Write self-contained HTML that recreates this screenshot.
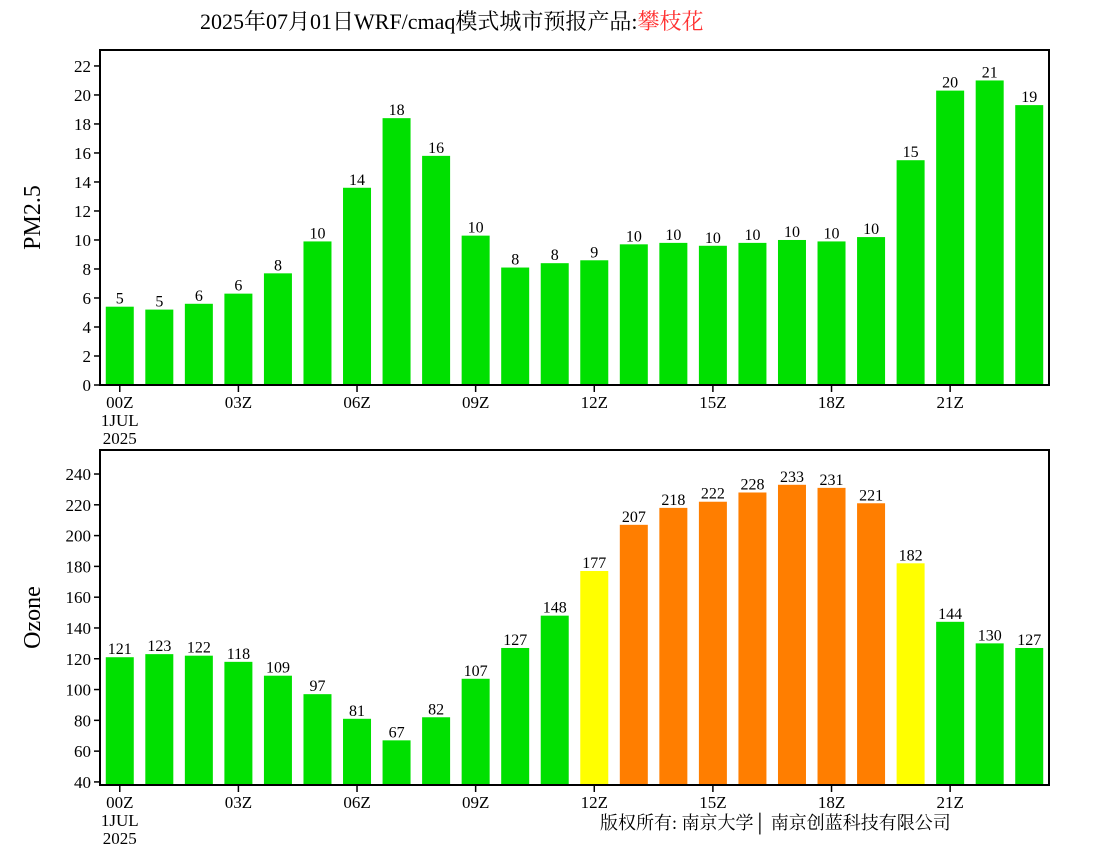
<!DOCTYPE html>
<html><head><meta charset="utf-8"><style>
body{margin:0;background:#fff;}
text{font-family:"Liberation Serif","Noto Serif CJK SC",serif;fill:#000;}
</style></head><body>
<svg id="svg" width="1100" height="850" xmlns="http://www.w3.org/2000/svg">
<rect width="1100" height="850" fill="#fff"/>
<text x="200" y="29" font-size="22">2025年07月01日WRF/cmaq模式城市预报产品:<tspan style="fill:#ff3030">攀枝花</tspan></text>
<text x="600" y="829" font-size="18">版权所有: 南京大学│ 南京创蓝科技有限公司</text>
<g id="g"></g>
</svg>
<script>
const hours = ["00Z","","","03Z","","","06Z","","","09Z","","","12Z","","","15Z","","","18Z","","","21Z","",""];
const pmValues = [5.4,5.2,5.6,6.3,7.7,9.9,13.6,18.4,15.8,10.3,8.1,8.4,8.6,9.7,9.8,9.6,9.8,10.0,9.9,10.2,15.5,20.3,21.0,19.3];
const pmLabels = [5,5,6,6,8,10,14,18,16,10,8,8,9,10,10,10,10,10,10,10,15,20,21,19];
const pmTicks = [0,2,4,6,8,10,12,14,16,18,20,22];
const o3Values = [121,123,122,118,109,97,81,67,82,107,127,148,177,207,218,222,228,233,231,221,182,144,130,127];
const o3Ticks = [40,60,80,100,120,140,160,180,200,220,240];
const NS="http://www.w3.org/2000/svg";
const g=document.getElementById('g');
function mk(t,a,txt){const e=document.createElementNS(NS,t);for(const k in a)e.setAttribute(k,a[k]);if(txt!==undefined)e.textContent=txt;g.appendChild(e);return e;}
const X0=100,X1=1049,n=24,step=(X1-X0)/n;
function xc(i){return X0+(i+0.5)*step;}
function panel(name,top,bot,vmin,vmax,vals,labels,ticks,ytitle,color,tfs){
  const y=v=>bot-(v-vmin)/(vmax-vmin)*(bot-top);
  vals.forEach((v,i)=>{
    const b=mk('rect',{x:xc(i)-14,y:y(v),width:28,height:bot-y(v),fill:color(v)});
    
    
    const l=mk('text',{x:xc(i),y:y(v)-3,'font-size':16,'text-anchor':'middle'},String(labels[i]));
    
    
  });
  const f=mk('rect',{x:X0,y:top,width:X1-X0,height:bot-top,fill:'none',stroke:'#000','stroke-width':2});
  
  
  ticks.forEach(t=>{
    mk('line',{x1:X0-6,x2:X0,y1:y(t),y2:y(t),stroke:'#000','stroke-width':1.5});
    const tl=mk('text',{x:X0-9,y:y(t)+6,'font-size':17,'text-anchor':'end'},String(t));
    
    
  });
  hours.forEach((h,i)=>{
    if(!h)return;
    mk('line',{x1:xc(i),x2:xc(i),y1:bot,y2:bot+7,stroke:'#000','stroke-width':1.5});
    const hl=mk('text',{x:xc(i),y:bot+23,'font-size':17,'text-anchor':'middle'},h);
    
    
  });
  const d1=mk('text',{x:xc(0),y:bot+41,'font-size':17,'text-anchor':'middle'},'1JUL');
  
  
  const d2=mk('text',{x:xc(0),y:bot+59,'font-size':17,'text-anchor':'middle'},'2025');
  
  
  const yt=mk('text',{x:0,y:0,'font-size':tfs,'text-anchor':'middle',transform:`translate(${X0-60},${(top+bot)/2}) rotate(-90)`},ytitle);
  
  
}
panel('pm25',50,385,0,23.1,pmValues,pmLabels,pmTicks,'PM2.5',()=>'#00e000',24);
panel('ozone',450,785,38,255.6,o3Values,o3Values,o3Ticks,'Ozone',v=>v>200?'#ff7e00':(v>160?'#ffff00':'#00e000'),24);
</script>
</body></html>
